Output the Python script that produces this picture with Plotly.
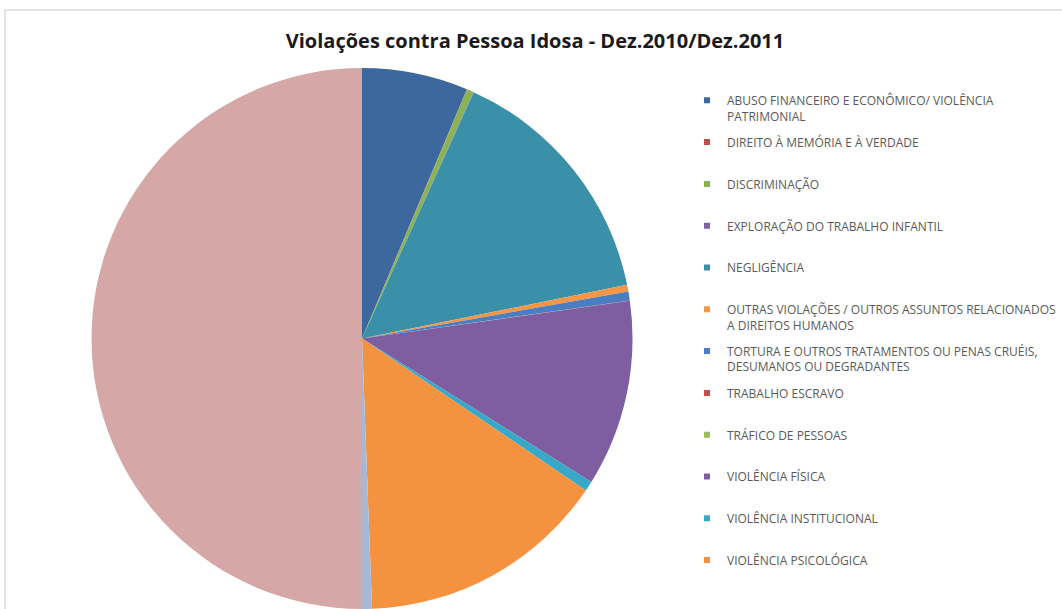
import textwrap
import plotly.graph_objects as go

# Categories (legend shows the first 12, as in the reference)
categories = [
    "ABUSO FINANCEIRO E ECONÔMICO/ VIOLÊNCIA PATRIMONIAL",
    "DIREITO À MEMÓRIA E À VERDADE",
    "DISCRIMINAÇÃO",
    "EXPLORAÇÃO DO TRABALHO INFANTIL",
    "NEGLIGÊNCIA",
    "OUTRAS VIOLAÇÕES / OUTROS ASSUNTOS RELACIONADOS A DIREITOS HUMANOS",
    "TORTURA E OUTROS TRATAMENTOS OU PENAS CRUÉIS, DESUMANOS OU DEGRADANTES",
    "TRABALHO ESCRAVO",
    "TRÁFICO DE PESSOAS",
    "VIOLÊNCIA FÍSICA",
    "VIOLÊNCIA INSTITUCIONAL",
    "VIOLÊNCIA PSICOLÓGICA",
    "VIOLÊNCIA SEXUAL",
    "TOTAL",
]
values = [1020, 2, 65, 3, 2420, 65, 85, 2, 1, 1790, 95, 2400, 95, 8043]
colors = [
    "#3D689E", "#C0504D", "#8DB255", "#8064A2", "#3A90A8", "#F79646",
    "#4A7EC0", "#C84B4B", "#9BBB59", "#7E5EA0", "#38A8C8", "#F5923F",
    "#A7B8D6", "#D6A7A7",
]
legend_count = 12

W, H = 1062, 609
top_m = 68
plot_h = H - top_m
cx, r = 362, plot_h / 2

# legend layout (evenly spaced rows, like the Excel legend)
legend_first_row = 101
legend_row_step = 41.8
legend_text_offset = 15
legend_font = dict(family="Open Sans, sans-serif", size=12, color="#5a5a5a")

fig = go.Figure()

legend_layouts = {}
for i in range(legend_count):
    key = "legend" if i == 0 else f"legend{i + 1}"
    fig.add_trace(go.Scatter(
        x=[None], y=[None], mode="markers",
        marker=dict(symbol="square", size=6, color=colors[i]),
        name="<br>".join(textwrap.wrap(categories[i], 47)),
        legend=key, showlegend=True, hoverinfo="skip",
    ))
    row_y = legend_first_row + i * legend_row_step
    legend_layouts[key] = dict(
        x=687 / W, xanchor="left", xref="paper",
        y=(H - (row_y - legend_text_offset)) / plot_h, yanchor="top", yref="paper",
        font=legend_font, valign="top", bgcolor="rgba(0,0,0,0)",
    )

fig.add_trace(go.Pie(
    labels=categories, values=values, sort=False,
    direction="clockwise", rotation=0,
    marker=dict(colors=colors, line=dict(width=0)),
    textinfo="none", showlegend=False,
    domain=dict(x=[(cx - r) / W, (cx + r) / W], y=[0, 1]),
))

fig.update_layout(
    width=W, height=H,
    margin=dict(l=0, r=0, t=top_m, b=0),
    paper_bgcolor="white", plot_bgcolor="white",
    xaxis=dict(visible=False), yaxis=dict(visible=False),
    title=dict(
        text="<b>Violações contra Pessoa Idosa - Dez.2010/Dez.2011</b>",
        x=535 / W, xanchor="center", y=1 - 41 / H, yanchor="middle",
        xref="container", yref="container",
        font=dict(family="Open Sans, sans-serif", size=20, color="#1a1a1a"),
    ),
    shapes=[dict(
        type="rect", xref="paper", yref="paper",
        x0=5 / W, x1=1.01, y0=-0.01, y1=(H - 10) / plot_h,
        line=dict(color="#c8c8c8", width=1), fillcolor="rgba(0,0,0,0)", layer="below",
    )],
    **legend_layouts,
)

fig.write_html(
    "out.html",
    config={"displayModeBar": False},
    post_script="document.body.style.margin='0';",
)
